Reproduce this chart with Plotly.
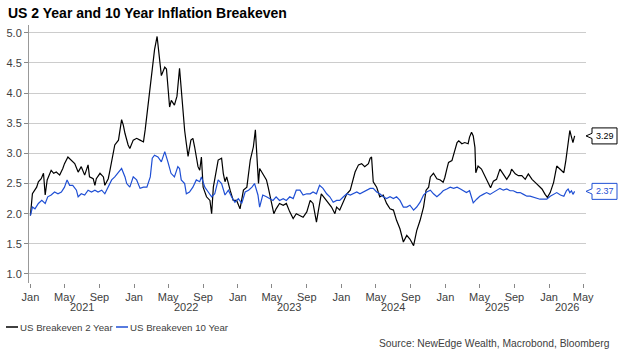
import plotly.graph_objects as go

# ---------------- data ----------------
dates_2y = [
    "2021-01-01","2021-01-08","2021-01-23","2021-01-29","2021-02-08","2021-02-16","2021-02-22","2021-03-01",
    "2021-03-15","2021-03-24","2021-04-02","2021-04-14","2021-04-25","2021-05-01","2021-05-13","2021-05-25",
    "2021-06-06","2021-06-18","2021-06-29","2021-07-11","2021-07-23","2021-07-28","2021-08-10","2021-08-16",
    "2021-08-21","2021-09-03","2021-09-15","2021-09-20","2021-10-02","2021-10-08","2021-10-16","2021-10-25",
    "2021-11-07","2021-11-18","2021-11-24","2021-11-30","2021-12-11","2021-12-17","2021-12-29","2022-01-10",
    "2022-01-22","2022-02-03","2022-02-09","2022-02-15","2022-02-27","2022-03-08","2022-03-14","2022-03-23",
    "2022-04-01","2022-04-07","2022-04-19","2022-04-25","2022-05-06","2022-05-12","2022-05-23","2022-06-01",
    "2022-06-10","2022-06-16","2022-06-22","2022-06-28","2022-07-04","2022-07-10","2022-07-20","2022-07-27",
    "2022-08-02","2022-08-14","2022-08-20","2022-08-26","2022-09-01","2022-09-13","2022-09-25","2022-10-01",
    "2022-10-07","2022-10-12","2022-10-24","2022-11-05","2022-11-11","2022-11-17","2022-11-23","2022-12-05",
    "2022-12-16","2022-12-28","2023-01-09","2023-01-21","2023-02-02","2023-02-14","2023-02-25","2023-03-04",
    "2023-03-11","2023-03-15","2023-03-19","2023-03-30","2023-04-12","2023-04-18","2023-04-29","2023-05-08",
    "2023-05-16","2023-05-28","2023-06-10","2023-06-21","2023-07-03","2023-07-15","2023-07-26","2023-08-08",
    "2023-08-19","2023-09-01","2023-09-13","2023-09-23","2023-10-05","2023-10-10","2023-10-22","2023-11-04",
    "2023-11-16","2023-11-27","2023-12-09","2023-12-15","2023-12-26","2024-01-08","2024-01-20","2024-02-01",
    "2024-02-13","2024-02-18","2024-03-01","2024-03-12","2024-03-23","2024-04-05","2024-04-11","2024-04-16",
    "2024-04-22","2024-05-04","2024-05-15","2024-05-27","2024-06-08","2024-06-20","2024-07-02","2024-07-13",
    "2024-07-25","2024-07-31","2024-08-06","2024-08-18","2024-08-29","2024-09-11","2024-09-22","2024-10-04",
    "2024-10-16","2024-10-25","2024-11-03","2024-11-09","2024-11-20","2024-12-02","2024-12-14","2024-12-24",
    "2024-12-30","2025-01-06","2025-01-12","2025-01-24","2025-01-30","2025-02-05","2025-02-11","2025-02-17",
    "2025-02-23","2025-02-28","2025-03-10","2025-03-22","2025-03-27","2025-04-03","2025-04-09","2025-04-15",
    "2025-04-18","2025-04-26","2025-05-08","2025-05-20","2025-06-01","2025-06-09","2025-06-19","2025-06-30",
    "2025-07-12","2025-07-24","2025-08-05","2025-08-17","2025-08-22","2025-09-04","2025-09-15","2025-09-27",
    "2025-10-09","2025-10-20","2025-11-02","2025-11-13","2025-11-25","2025-12-07","2025-12-18","2025-12-26",
    "2026-01-05","2026-01-17","2026-01-28","2026-02-10","2026-02-22","2026-03-01","2026-03-09","2026-03-15",
    "2026-03-21","2026-03-26","2026-04-01",
]
breakeven_2y = [
    1.97,2.33,2.44,2.53,2.58,2.67,2.31,2.56,
    2.72,2.67,2.69,2.64,2.75,2.83,2.94,2.89,
    2.83,2.69,2.78,2.64,2.81,2.61,2.58,2.47,
    2.58,2.67,2.61,2.47,2.58,2.72,2.94,3.14,
    3.22,3.56,3.47,3.33,3.14,3.08,3.22,3.25,
    3.22,3.19,3.39,3.64,4.03,4.50,4.72,4.94,
    4.49,4.29,4.43,4.40,3.77,3.88,3.80,3.95,
    4.41,4.05,3.72,3.38,3.16,2.95,3.22,3.25,
    3.11,2.78,2.72,2.94,2.44,2.28,2.22,2.00,
    2.44,2.56,2.89,2.92,2.67,2.53,2.61,2.39,
    2.22,2.22,2.08,2.39,2.44,2.89,3.11,3.39,
    2.83,2.50,2.75,2.67,2.56,2.44,2.22,2.00,
    2.08,2.17,2.14,2.17,2.03,1.92,2.00,1.97,
    1.94,2.03,2.22,2.17,1.86,2.00,2.33,2.25,
    2.17,2.11,2.00,2.11,2.06,2.19,2.33,2.39,
    2.61,2.69,2.81,2.83,2.78,2.83,2.92,2.94,
    2.53,2.44,2.28,2.31,2.17,2.08,2.06,1.89,
    1.75,1.61,1.53,1.64,1.58,1.47,1.72,1.89,
    2.11,2.39,2.44,2.61,2.67,2.58,2.56,2.52,
    2.60,2.74,2.85,2.88,2.99,3.10,3.18,3.21,
    3.18,3.16,3.18,3.16,3.27,3.35,3.29,3.10,
    2.68,2.79,2.74,2.63,2.52,2.43,2.54,2.57,
    2.74,2.66,2.57,2.66,2.74,2.66,2.63,2.63,
    2.57,2.66,2.57,2.52,2.46,2.41,2.32,2.27,
    2.35,2.52,2.79,2.74,2.68,2.88,3.21,3.38,
    3.27,3.18,3.29,
]

dates_10y = [
    "2021-01-01","2021-01-08","2021-01-17","2021-01-29","2021-02-10","2021-02-22","2021-03-03","2021-03-15",
    "2021-03-27","2021-04-08","2021-04-20","2021-05-01","2021-05-10","2021-05-19","2021-05-30","2021-06-12",
    "2021-06-18","2021-06-29","2021-07-11","2021-07-23","2021-08-04","2021-08-16","2021-08-27","2021-09-09",
    "2021-09-20","2021-10-02","2021-10-14","2021-10-25","2021-11-07","2021-11-18","2021-11-30","2021-12-06",
    "2021-12-17","2021-12-29","2022-01-10","2022-01-22","2022-02-03","2022-02-15","2022-02-27","2022-03-06",
    "2022-03-14","2022-03-26","2022-04-07","2022-04-19","2022-04-30","2022-05-11","2022-05-23","2022-06-04",
    "2022-06-10","2022-06-16","2022-06-28","2022-07-04","2022-07-15","2022-07-27","2022-08-08","2022-08-20",
    "2022-08-26","2022-09-07","2022-09-19","2022-10-01","2022-10-12","2022-10-24","2022-11-05","2022-11-17",
    "2022-11-29","2022-12-10","2022-12-22","2023-01-03","2023-01-15","2023-01-27","2023-02-08","2023-02-20",
    "2023-03-01","2023-03-13","2023-03-19","2023-03-30","2023-04-12","2023-04-23","2023-05-05","2023-05-16",
    "2023-05-28","2023-06-10","2023-06-21","2023-07-03","2023-07-15","2023-07-26","2023-08-08","2023-08-19",
    "2023-09-01","2023-09-13","2023-09-23","2023-10-05","2023-10-16","2023-10-28","2023-11-10","2023-11-21",
    "2023-12-03","2023-12-15","2023-12-26","2024-01-08","2024-01-20","2024-02-01","2024-02-13","2024-02-24",
    "2024-03-06","2024-03-17","2024-03-29","2024-04-11","2024-04-22","2024-05-04","2024-05-15","2024-05-27",
    "2024-06-08","2024-06-20","2024-07-02","2024-07-13","2024-07-25","2024-08-06","2024-08-18","2024-08-29",
    "2024-09-11","2024-09-22","2024-10-04","2024-10-16","2024-10-27","2024-11-09","2024-11-20","2024-12-02",
    "2024-12-14","2024-12-24","2025-01-06","2025-01-18","2025-01-30","2025-02-11","2025-02-23","2025-03-04",
    "2025-03-16","2025-03-27","2025-04-09","2025-04-21","2025-05-02","2025-05-14","2025-05-26","2025-06-07",
    "2025-06-19","2025-06-30","2025-07-12","2025-07-24","2025-08-05","2025-08-17","2025-08-28","2025-09-10",
    "2025-09-21","2025-10-03","2025-10-15","2025-10-26","2025-11-08","2025-11-19","2025-11-30","2025-12-12",
    "2025-12-24","2026-01-05","2026-01-17","2026-01-28","2026-02-10","2026-02-22","2026-03-03","2026-03-09",
    "2026-03-15","2026-03-21","2026-03-26","2026-04-01",
]
breakeven_10y = [
    1.97,2.11,2.08,2.17,2.22,2.17,2.28,2.31,
    2.36,2.33,2.36,2.44,2.56,2.47,2.47,2.39,
    2.28,2.33,2.31,2.39,2.36,2.39,2.36,2.39,
    2.33,2.44,2.56,2.61,2.69,2.75,2.61,2.50,
    2.44,2.61,2.56,2.42,2.44,2.44,2.61,2.92,
    2.97,2.94,2.86,3.03,2.86,2.67,2.61,2.78,
    2.75,2.56,2.50,2.33,2.36,2.44,2.56,2.53,
    2.61,2.44,2.36,2.28,2.33,2.56,2.50,2.31,
    2.39,2.28,2.19,2.25,2.17,2.36,2.39,2.44,
    2.50,2.31,2.11,2.31,2.28,2.25,2.22,2.28,
    2.22,2.25,2.22,2.28,2.25,2.39,2.39,2.31,
    2.33,2.33,2.36,2.33,2.47,2.42,2.33,2.28,
    2.19,2.22,2.22,2.28,2.33,2.31,2.33,2.36,
    2.33,2.36,2.39,2.42,2.42,2.36,2.33,2.28,
    2.25,2.28,2.25,2.28,2.22,2.11,2.11,2.14,
    2.06,2.11,2.19,2.31,2.36,2.39,2.33,2.28,
    2.33,2.38,2.41,2.44,2.42,2.44,2.41,2.38,
    2.35,2.38,2.18,2.24,2.29,2.32,2.35,2.32,
    2.35,2.38,2.42,2.39,2.41,2.38,2.38,2.35,
    2.35,2.32,2.29,2.29,2.27,2.26,2.24,2.24,
    2.24,2.29,2.32,2.35,2.31,2.29,2.38,2.41,
    2.35,2.38,2.32,2.37,
]

series_names = ["US Breakeven 2 Year", "US Breakeven 10 Year"]
series_colors = ["#000000", "#1f4fd4"]

tick_dates = ["2021-01-01","2021-05-01","2021-09-01","2022-01-01","2022-05-01","2022-09-01",
              "2023-01-01","2023-05-01","2023-09-01","2024-01-01","2024-05-01","2024-09-01",
              "2025-01-01","2025-05-01","2025-09-01","2026-01-01","2026-05-01"]
tick_labels = ["Jan","May","Sep"] * 5 + ["Jan","May"]
year_labels = ["2021","2022","2023","2024","2025","2026"]
year_label_dates = ["2021-07-02","2022-07-02","2023-07-02","2024-07-02","2025-07-02","2026-03-06"]

title_text = "US 2 Year and 10 Year Inflation Breakeven"
source_text = "Source: NewEdge Wealth, Macrobond, Bloomberg"

# ---------------- layout constants (pixels) ----------------
W, H = 625, 358
L, R, T, B = 29, 586, 25, 283
Y_MIN, Y_MAX = 0.85, 5.13
X_MIN, X_MAX = "2020-12-27", "2026-05-11"
TXT = "#404040"
FONT = "Liberation Sans, Arial, sans-serif"

def px_x(px):
    return (px - L) / (R - L)

def px_y(py):
    return (B - py) / (B - T)

unit = (B - T) / (Y_MAX - Y_MIN)  # pixels per y unit

fig = go.Figure()
fig.add_trace(go.Scatter(x=dates_2y, y=breakeven_2y, mode="lines", name=series_names[0],
                         line=dict(color=series_colors[0], width=1.2)))
fig.add_trace(go.Scatter(x=dates_10y, y=breakeven_10y, mode="lines", name=series_names[1],
                         line=dict(color=series_colors[1], width=1.2)))

annotations = []
for lab, d in zip(year_labels, year_label_dates):
    annotations.append(dict(x=d, xref="x", y=px_y(307), yref="paper", text=lab, showarrow=False,
                            xanchor="center", yanchor="middle", font=dict(size=11, color=TXT, family=FONT)))
annotations.append(dict(x=px_x(612), xref="paper", y=px_y(343), yref="paper", text=source_text,
                        showarrow=False, xanchor="right", yanchor="middle",
                        font=dict(size=10.3, color=TXT, family=FONT)))

# legend drawn as line swatches + text, laid out like the reference
legend_items = [(series_names[0], series_colors[0], 6, 18), (series_names[1], series_colors[1], 116, 128)]
shapes = []
for name, col, sx, tx in legend_items:
    shapes.append(dict(type="line", xref="paper", yref="paper", x0=px_x(sx), x1=px_x(sx + 12),
                       y0=px_y(327), y1=px_y(327), line=dict(color=col, width=1.5)))
    annotations.append(dict(x=px_x(tx), xref="paper", y=px_y(327), yref="paper", text=name,
                            showarrow=False, xanchor="left", yanchor="middle",
                            font=dict(size=9.7, color=TXT, family=FONT)))

# end-value callout tags
for vals, col in ((breakeven_2y, series_colors[0]), (breakeven_10y, series_colors[1])):
    v = vals[-1]
    bl, br, tip = px_x(592), px_x(617), px_x(586)
    hh = 8 / unit
    nh = 2.6 / unit
    path = (f"M {bl} {v + hh} L {br} {v + hh} L {br} {v - hh} L {bl} {v - hh} "
            f"L {bl} {v - nh} L {tip} {v} L {bl} {v + nh} Z")
    shapes.append(dict(type="path", xref="paper", yref="y", path=path,
                       line=dict(color=col, width=1), fillcolor="white", layer="above"))
    annotations.append(dict(x=px_x(604.5), xref="paper", y=v, yref="y", text=f"{v:.2f}",
                            showarrow=False, xanchor="center", yanchor="middle",
                            font=dict(size=9, color=col, family=FONT)))

fig.update_layout(
    width=W, height=H,
    margin=dict(l=L, r=W - R, t=T, b=H - B, autoexpand=False),
    paper_bgcolor="white", plot_bgcolor="white",
    title=dict(text=f"<b>{title_text}</b>", x=8 / W, xref="container", xanchor="left",
               y=1 - 13 / H, yref="container", yanchor="middle",
               font=dict(size=14, color="#000000", family=FONT)),
    showlegend=False,
    annotations=annotations,
    shapes=shapes,
    xaxis=dict(range=[X_MIN, X_MAX], tickmode="array", tickvals=tick_dates, ticktext=tick_labels,
               ticks="outside", ticklen=4, tickcolor="#888888", showgrid=False, showline=False,
               zeroline=False, automargin=False, tickfont=dict(size=11, color=TXT, family=FONT)),
    yaxis=dict(range=[Y_MIN, Y_MAX], tickmode="array", tickvals=[1.0,1.5,2.0,2.5,3.0,3.5,4.0,4.5,5.0],
               ticktext=["1.0","1.5","2.0","2.5","3.0","3.5","4.0","4.5","5.0"],
               ticks="outside", ticklen=4, tickcolor="#888888", showgrid=True, gridcolor="#cccccc",
               gridwidth=1, showline=True, linecolor="#999999", linewidth=1, zeroline=False,
               automargin=False, tickfont=dict(size=11, color=TXT, family=FONT)),
)

fig.write_html("out.html", config={"displayModeBar": False},
               post_script="document.body.style.margin='0';")
